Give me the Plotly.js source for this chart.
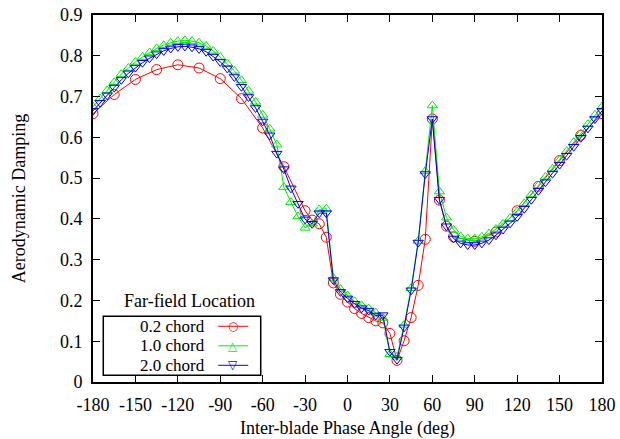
<!DOCTYPE html>
<html><head><meta charset="utf-8">
<script src="https://cdn.plot.ly/plotly-3.0.1.min.js"></script>
<style>html,body{margin:0;padding:0;background:#fff}#chart{width:620px;height:439px}</style>
</head><body><div id="chart"></div>
<script>
// Red: 0.2 chord
const redX = [-180,-165,-150,-135,-120,-105,-90,-75,-60,-45,-30,-25,-20,-15,-10,-5,0,5,10,15,20,25,30,35,40,45,50,55,60,65,70,75,90,105,120,135,150,165,180];
const redY = [0.658,0.705,0.742,0.766,0.778,0.770,0.744,0.695,0.623,0.528,0.420,0.397,0.388,0.355,0.243,0.215,0.196,0.180,0.168,0.158,0.150,0.145,0.119,0.053,0.101,0.158,0.237,0.350,0.645,0.446,0.382,0.356,0.345,0.368,0.420,0.480,0.543,0.605,0.658];
// 5-degree grid for green/blue
const fineX = [-180,-175,-170,-165,-160,-155,-150,-145,-140,-135,-130,-125,-120,-115,-110,-105,-100,-95,-90,-85,-80,-75,-70,-65,-60,-55,-50,-45,-40,-35,-30,-25,-20,-15,-10,-5,0,5,10,15,20,25,30,35,40,45,50,55,60,65,70,75,80,85,90,95,100,105,110,115,120,125,130,135,140,145,150,155,160,165,170,175,180];
// Green: 1.0 chord
const greenY = [0.675,0.695,0.715,0.735,0.755,0.770,0.785,0.797,0.808,0.818,0.826,0.832,0.836,0.838,0.836,0.832,0.824,0.812,0.797,0.781,0.763,0.740,0.714,0.687,0.655,0.621,0.582,0.478,0.441,0.406,0.378,0.388,0.423,0.425,0.255,0.228,0.212,0.198,0.188,0.180,0.170,0.157,0.068,0.062,0.140,0.230,0.346,0.517,0.678,0.467,0.403,0.373,0.357,0.352,0.352,0.356,0.364,0.375,0.388,0.402,0.418,0.438,0.460,0.482,0.503,0.523,0.544,0.566,0.588,0.609,0.632,0.655,0.675];
// Blue: 2.0 chord
const blueY = [0.665,0.685,0.703,0.722,0.741,0.757,0.771,0.783,0.794,0.804,0.812,0.818,0.822,0.823,0.821,0.817,0.810,0.798,0.785,0.769,0.748,0.724,0.699,0.672,0.639,0.605,0.560,0.522,0.475,0.437,0.399,0.388,0.414,0.414,0.250,0.221,0.205,0.192,0.181,0.175,0.163,0.164,0.074,0.055,0.134,0.225,0.342,0.510,0.645,0.447,0.382,0.352,0.340,0.336,0.336,0.340,0.348,0.360,0.374,0.389,0.405,0.425,0.447,0.469,0.490,0.511,0.533,0.555,0.577,0.599,0.622,0.645,0.665];
const names = ['0.2 chord','1.0 chord','2.0 chord'];
const colors = ['#ff0000','#00ee00','#0000ff'];
const glyphs = ['○','△','▽'];
const legendTitle = 'Far-field Location';
const xTicks = [-180,-150,-120,-90,-60,-30,0,30,60,90,120,150,180];
const yTicks = [0,0.1,0.2,0.3,0.4,0.5,0.6,0.7,0.8,0.9];

const FAM = 'Liberation Serif, Times New Roman, Times, serif';
function f(size, color){ return {family:FAM, size:size, color:color||'#000'}; }
const symbols = ['circle-open','triangle-up-open','triangle-down-open'];
const sizes = [10,9,9];
const xs = [redX, fineX, fineX], ys = [redY, greenY, blueY];
const traces = names.map((n,i)=>({x:xs[i], y:ys[i], name:n, mode:'lines+markers', showlegend:false,
  line:{color:colors[i],width:1}, marker:{symbol:symbols[i],size:sizes[i],color:colors[i],line:{width:1}}}));

// custom legend (gnuplot style: text left, sample right)
const rowY = [0.1518, 0.0986, 0.0455];
const shapes = [{type:'rect', xref:'paper', yref:'paper', x0:0.0202, x1:0.3295, y0:0.0183, y1:0.179,
  line:{color:'#000', width:1.5}, fillcolor:'#fff', layer:'above'}];
const annotations = [{text:legendTitle, xref:'paper', yref:'paper', x:0.190, y:0.222, xanchor:'center', yanchor:'middle',
  showarrow:false, font:f(18)}];
names.forEach((n,i)=>{
  shapes.push({type:'line', xref:'paper', yref:'paper', x0:0.246, x1:0.305, y0:rowY[i], y1:rowY[i],
    line:{color:colors[i], width:1}, layer:'above'});
  annotations.push({text:n, xref:'paper', yref:'paper', x:0.2234, y:rowY[i], xanchor:'right', yanchor:'middle',
    showarrow:false, font:f(17)});
  annotations.push({text:glyphs[i], xref:'paper', yref:'paper', x:0.2756, y:rowY[i], xanchor:'center', yanchor:'middle',
    showarrow:false, font:{family:'DejaVu Sans', size:12, color:colors[i]}});
});

const axisCommon = {showgrid:false, zeroline:false, showline:true, linecolor:'#000', linewidth:2,
  mirror:'ticks', ticks:'inside', ticklen:7, tickwidth:1, tickcolor:'#000', tickfont:f(18)};
const layout = {
  width:620, height:439, paper_bgcolor:'#fff', plot_bgcolor:'#fff',
  margin:{l:93, r:18, t:15, b:57},
  font:f(18),
  xaxis:Object.assign({}, axisCommon, {range:[-180,180], tickvals:xTicks, ticktext:xTicks.map(String),
    ticklabelstandoff:5, title:{text:'Inter-blade Phase Angle (deg)', font:f(18), standoff:10}}),
  yaxis:Object.assign({}, axisCommon, {range:[0,0.9], tickvals:yTicks, ticktext:yTicks.map(v=>String(v)),
    ticklabelstandoff:5, title:{text:'Aerodynamic Damping', font:f(18), standoff:30}}),
  shapes:shapes, annotations:annotations
};
Plotly.newPlot('chart', traces, layout, {staticPlot:true, displayModeBar:false});
</script></body></html>
